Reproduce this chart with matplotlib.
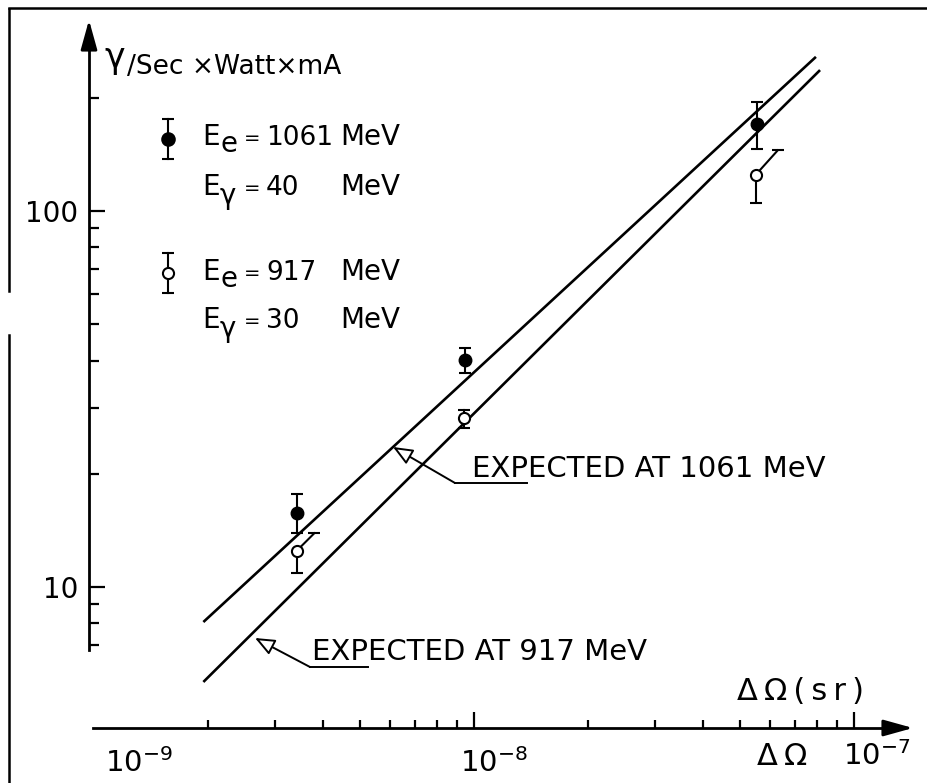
import matplotlib
matplotlib.use("Agg")
import matplotlib.pyplot as plt
from matplotlib.lines import Line2D
from matplotlib.ticker import NullFormatter, FixedFormatter

plt.rcParams["font.family"] = ["DejaVu Sans"]
plt.rcParams["mathtext.fontset"] = "dejavusans"

# ---- data -----------------------------------------------------------------
# filled points: Ee = 1061 MeV, Egamma = 40 MeV
FILLED_X = [3.42e-9, 9.47e-9, 5.56e-8]
FILLED_Y = [15.7, 40.2, 170.0]
FILLED_LO = [13.9, 37.1, 146.0]
FILLED_HI = [17.7, 43.2, 195.0]

# open points: Ee = 917 MeV, Egamma = 30 MeV
OPEN_X = [3.42e-9, 9.41e-9, 5.52e-8]
OPEN_Y = [12.5, 28.1, 125.0]
OPEN_LO = [10.9, 26.5, 105.0]
OPEN_HI = [13.9, 29.6, 145.0]
# upper bars of the outer open points are drawn slanted (to clear the filled bars)
OPEN_HI_X = [3.80e-9, 9.41e-9, 6.30e-8]

# expected lines
EXP_1061_X = [1.94e-9, 7.94e-8]
EXP_1061_Y = [8.07, 257.0]
EXP_917_X = [1.94e-9, 8.14e-8]
EXP_917_Y = [5.59, 237.0]

X_MAJOR = [1e-8, 1e-7]
X_MINOR = [2e-9, 3e-9, 4e-9, 5e-9, 6e-9, 7e-9, 8e-9, 9e-9,
           2e-8, 3e-8, 4e-8, 5e-8, 6e-8, 7e-8, 8e-8, 9e-8]
Y_MAJOR = [10, 100]
Y_MAJOR_LABELS = ["10", "100"]
Y_MINOR = [7, 8, 9, 20, 30, 40, 50, 60, 70, 80, 90, 200]

LEGEND_ROWS = [("e", "1061"), ("γ", "40"), ("e", "917"), ("γ", "30")]

# ---- page geometry (pixels of the scan) ----------------------------------
W, H, DPI = 927, 783, 100
X_DEC, Y_DEC = 380.0, 376.0       # pixels per decade
X_REF_PX, Y_REF_PX = 474.0, 587.0  # where 1e-8 and 10 sit
THIN = "\u2009"


def x_at(px):
    return 10 ** (-8 + (px - X_REF_PX) / X_DEC)


def y_at(py):
    return 10 ** (1 + (Y_REF_PX - py) / Y_DEC)


fig = plt.figure(figsize=(W / DPI, H / DPI), dpi=DPI)
ax = fig.add_axes([0, 0, 1, 1])
ax.set_xscale("log")
ax.set_yscale("log")
ax.set_xlim(x_at(0), x_at(W))
ax.set_ylim(y_at(H), y_at(0))
ax.patch.set_visible(False)

AX_LW = 2.0
for side in ("top", "right"):
    ax.spines[side].set_visible(False)
ax.spines["left"].set_position(("data", x_at(89)))
ax.spines["left"].set_bounds(y_at(650), y_at(45))
ax.spines["bottom"].set_position(("data", y_at(728)))
ax.spines["bottom"].set_bounds(x_at(93), x_at(890))
for side in ("left", "bottom"):
    ax.spines[side].set_linewidth(AX_LW)

ax.set_xticks(X_MAJOR)
ax.set_xticks(X_MINOR, minor=True)
ax.set_yticks(Y_MAJOR)
ax.set_yticks(Y_MINOR, minor=True)
ax.xaxis.set_major_formatter(NullFormatter())
ax.xaxis.set_minor_formatter(NullFormatter())
ax.yaxis.set_major_formatter(FixedFormatter(Y_MAJOR_LABELS))
ax.yaxis.set_minor_formatter(NullFormatter())
ax.tick_params(which="both", direction="in", width=1.6, color="black")
ax.tick_params(axis="x", which="major", length=11.5)
ax.tick_params(axis="x", which="minor", length=6)
ax.tick_params(axis="y", which="major", length=11.5, pad=8, labelsize=20)
ax.tick_params(axis="y", which="minor", length=7)

# axis arrowheads
head = "-|>,head_length=0.9,head_width=0.25"
ax.annotate("", xy=(x_at(89), y_at(20)), xytext=(x_at(89), y_at(50)),
            arrowprops=dict(arrowstyle=head, mutation_scale=20, color="black",
                            lw=AX_LW, shrinkA=0, shrinkB=0))
ax.annotate("", xy=(x_at(913), y_at(728)), xytext=(x_at(885), y_at(728)),
            arrowprops=dict(arrowstyle=head, mutation_scale=20, color="black",
                            lw=AX_LW, shrinkA=0, shrinkB=0))

# expected lines
ax.plot(EXP_1061_X, EXP_1061_Y, color="black", lw=1.9, solid_capstyle="butt")
ax.plot(EXP_917_X, EXP_917_Y, color="black", lw=1.9, solid_capstyle="butt")

# filled points
ax.errorbar(FILLED_X, FILLED_Y,
            yerr=[[y - lo for y, lo in zip(FILLED_Y, FILLED_LO)],
                  [hi - y for y, hi in zip(FILLED_Y, FILLED_HI)]],
            fmt="o", color="black", ms=9, capsize=4, elinewidth=1.5,
            capthick=1.5, zorder=4)

# open points: lower bar vertical, upper bar possibly slanted
ax.vlines(OPEN_X, OPEN_LO, OPEN_Y, color="black", lw=1.5, zorder=4)
for x, y, hx, hy in zip(OPEN_X, OPEN_Y, OPEN_HI_X, OPEN_HI):
    ax.plot([x, hx], [y, hy], color="black", lw=1.5, zorder=4)
ax.plot(OPEN_X, OPEN_LO, "_", color="black", ms=8, mew=1.5, zorder=4)
ax.plot(OPEN_HI_X, OPEN_HI, "_", color="black", ms=8, mew=1.5, zorder=4)
ax.plot(OPEN_X, OPEN_Y, "o", mfc="white", mec="black", ms=8, mew=1.5, zorder=5)


def put(px, py, s, size=20, **kw):
    ax.text(px / W, 1 - py / H, s, transform=ax.transAxes, va="baseline",
            fontsize=size, **kw)


# callouts to the two expected lines
callout = "-|>,head_length=0.6,head_width=0.25"
for tip, elbow, end_px in (((393, 447), (455, 483), 527),
                           ((255, 638), (310, 667), 368)):
    ax.annotate("", xy=(x_at(tip[0]), y_at(tip[1])),
                xytext=(x_at(elbow[0]), y_at(elbow[1])),
                arrowprops=dict(arrowstyle=callout, mutation_scale=20,
                                fc="white", ec="black", lw=1.4,
                                shrinkA=0, shrinkB=0))
    ax.plot([x_at(elbow[0]), x_at(end_px)], [y_at(elbow[1])] * 2,
            color="black", lw=1.4)
put(472, 477, "EXPECTED AT 1061 MeV", size=21)
put(312, 660, "EXPECTED AT 917 MeV", size=21)

# axis titles and x labels
put(104, 68, "γ", size=25)
put(127, 74, "/Sec ×Watt×mA", size=19)
put(737, 700, THIN.join("ΔΩ(s") + THIN + "r" + THIN + ")", size=22)
put(757, 765, "Δ" + THIN + "Ω", size=22)
put(105, 772, r"10$^{-9}$", size=21)
put(460, 772, r"10$^{-8}$", size=21)
put(843, 765, r"10$^{-7}$", size=21)

# legend keys
for ky, filled in ((139, True), (273, False)):
    kx = 168 / W
    ax.plot([kx, kx], [1 - (ky - 20) / H, 1 - (ky + 20) / H],
            transform=ax.transAxes, color="black", lw=1.5)
    ax.plot([kx, kx], [1 - (ky - 20) / H, 1 - (ky + 20) / H], "_",
            transform=ax.transAxes, color="black", ms=8, mew=1.5)
    ax.plot([kx], [1 - ky / H], "o", transform=ax.transAxes,
            mfc="black" if filled else "white", mec="black",
            ms=9 if filled else 8, mew=1.5, zorder=5)

# legend text
for py, (sub, num) in zip((145, 195, 280, 328), LEGEND_ROWS):
    put(202, py, "E")
    put(220, py + (7 if sub == "e" else 9), sub, size=20)
    put(244, py - 1, "=", size=14)
    put(266, py, num, size=19)
    put(340, py, "MeV")

# frame of the scanned page
for xs, ys in (([9, 9], [9, 291]), ([9, 9], [335, H]), ([9, W], [8, 8])):
    fig.add_artist(Line2D([v / W for v in xs], [1 - v / H for v in ys],
                          transform=fig.transFigure, color="black", lw=1.8))

fig.savefig("out.png", dpi=DPI)
